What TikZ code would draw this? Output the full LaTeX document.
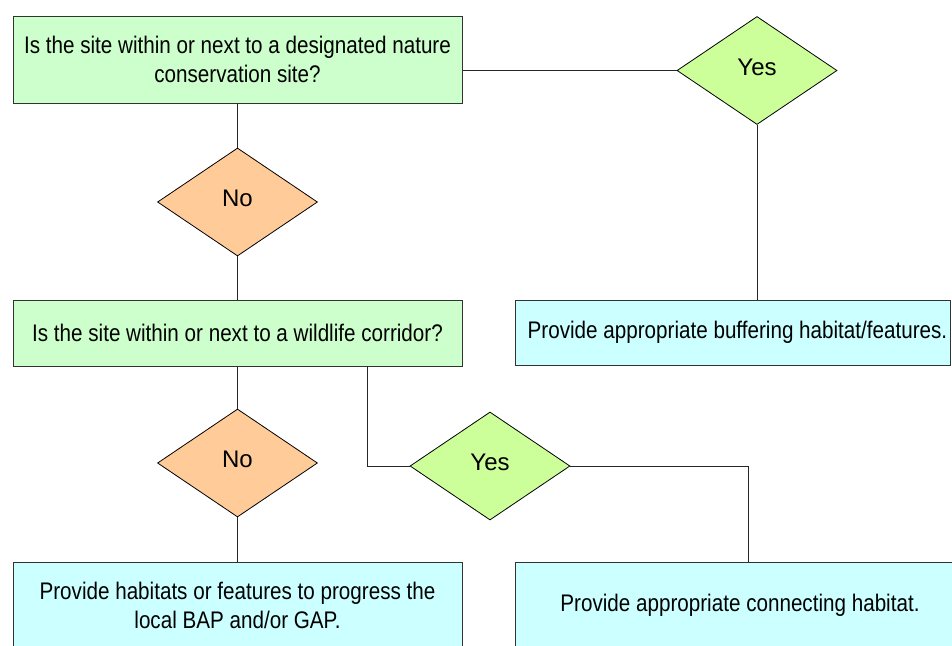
\documentclass[tikz,border=0pt]{standalone}
\usepackage{fontspec}
\setmainfont{Liberation Sans}[FakeStretch=0.86]
\newfontfamily\diafont{Liberation Sans}
\usetikzlibrary{shapes.geometric}
\definecolor{qgreen}{HTML}{CCFFCC}
\definecolor{ygreen}{HTML}{CCFF99}
\definecolor{norange}{HTML}{FFCC99}
\definecolor{acyan}{HTML}{CCFFFF}
\definecolor{edgec}{HTML}{333333}
\begin{document}
\begin{tikzpicture}[x=1pt,y=-1pt,
  every node/.style={font=\fontsize{24}{29}\selectfont, text=black},
  qbox/.style={draw=edgec, line width=1pt, fill=qgreen, rectangle, inner sep=0pt, align=center},
  abox/.style={draw=edgec, line width=1pt, fill=acyan, rectangle, inner sep=0pt, align=center},
  dia/.style={draw=black, line width=0.8pt, diamond, inner sep=0pt, minimum width=160pt, minimum height=108pt,
    font=\diafont\fontsize{24}{29}\selectfont, text height=17pt, text depth=8pt},
  ydia/.style={dia, fill=ygreen},
  ndia/.style={dia, fill=norange},
  conn/.style={draw=black!85, line width=0.9pt}]
\useasboundingbox (0,0) rectangle (952,645);
\node[qbox, minimum width=449pt, minimum height=87pt] (b1) at (237.5,59.5)
  {Is the site within or next to a designated nature\\conservation site?};
\node[ydia] (y1) at (757,70.5) {Yes};
\node[abox, minimum width=435pt, minimum height=65pt] (buf) at (732.5,332.5)
  {\hspace*{10pt}Provide appropriate buffering habitat/features.};
\node[ndia] (n1) at (237.5,202) {No};
\node[qbox, minimum width=449pt, minimum height=66pt] (b2) at (237.5,333)
  {Is the site within or next to a wildlife corridor?};
\node[ndia] (n2) at (237.5,463) {No};
\node[ydia] (y2) at (490,466) {Yes};
\node[abox, minimum width=449pt, minimum height=86pt] (b3) at (237.5,605)
  {Provide habitats or features to progress the\\local BAP and/or GAP.};
\node[abox, minimum width=450pt, minimum height=86pt] (b4) at (740,605)
  {Provide appropriate connecting habitat.};
\coordinate (c1) at (367,366);
\coordinate (c2) at (748,562);
\draw[conn] (b1.east |- y1.west) -- (y1.west);
\draw[conn] (y1.south) -- (buf.north -| y1.south);
\draw[conn] (b1.south) -- (n1.north);
\draw[conn] (n1.south) -- (b2.north);
\draw[conn] (b2.south) -- (n2.north);
\draw[conn] (n2.south) -- (b3.north);
\draw[conn] (c1) |- (y2.west);
\draw[conn] (y2.east) -| (c2);
\end{tikzpicture}
\end{document}
